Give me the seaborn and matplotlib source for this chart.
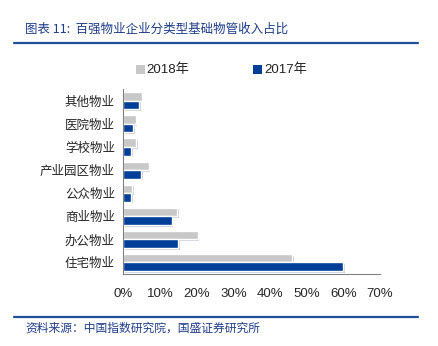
import matplotlib
matplotlib.use("Agg")
import matplotlib.pyplot as plt
import matplotlib.patheffects as pe
import seaborn as sns
import pandas as pd
from matplotlib.ticker import FuncFormatter, FixedLocator

categories = ["其他物业", "医院物业", "学校物业", "产业园区物业", "公众物业", "商业物业", "办公物业", "住宅物业"]
share_2018 = [5.0, 3.4, 3.6, 6.9, 2.5, 14.7, 20.3, 46.0]
share_2017 = [4.3, 2.7, 2.1, 4.8, 2.1, 13.2, 15.0, 60.0]
series_names = ["2018年", "2017年"]

df = pd.DataFrame({
    "类型": categories * 2,
    "占比": share_2018 + share_2017,
    "年份": [series_names[0]] * len(categories) + [series_names[1]] * len(categories),
})

sns.set_style("white")
plt.rcParams["font.family"] = ["Liberation Sans", "Noto Sans CJK SC", "DejaVu Sans"]

fig = plt.figure(figsize=(4.38, 3.46), dpi=100)
ax = fig.add_axes([0.2815, 0.208, 0.586, 0.534])

palette = {"2018年": "#c8c8c8", "2017年": "#003f98"}
sns.barplot(data=df, y="类型", x="占比", hue="年份", order=categories,
            hue_order=series_names, palette=palette, orient="h",
            width=0.74, ax=ax, saturation=1, legend=False)

# soft drop shadow under each bar
for bar in ax.patches:
    bar.set_path_effects([pe.SimplePatchShadow(offset=(1.2, -1.2), shadow_rgbFace="#9aa6c0", alpha=0.5),
                          pe.Normal()])

ax.set_xlim(0, 70)
ax.set_ylim(len(categories) - 0.5, -0.5)
ax.xaxis.set_major_locator(FixedLocator(range(0, 71, 10)))
ax.xaxis.set_major_formatter(FuncFormatter(lambda v, p: f"{v:.0f}%"))
ax.set_xlabel("")
ax.set_ylabel("")

for s in ["top", "right"]:
    ax.spines[s].set_visible(False)
for s in ["left", "bottom"]:
    ax.spines[s].set_color("#808080")
    ax.spines[s].set_linewidth(0.8)

ax.tick_params(axis="x", direction="in", length=3, color="#808080", labelsize=9.5, pad=10)
ax.tick_params(axis="y", which="major", length=0, labelsize=9, pad=6)
ax.set_yticks([i + 0.5 for i in range(-1, len(categories) - 1)], minor=True)
ax.tick_params(axis="y", which="minor", direction="in", length=4, color="#808080")
for lab in ax.get_yticklabels():
    lab.set_fontfamily(["Noto Sans CJK SC", "DejaVu Sans"])

# legend along the top
for xpos, name in [(0.31, series_names[0]), (0.578, series_names[1])]:
    fig.patches.append(plt.Rectangle((xpos, 0.787), 0.02, 0.025, transform=fig.transFigure,
                                     facecolor=palette[name], edgecolor="none"))
    fig.text(xpos + 0.025, 0.799, name, ha="left", va="center", fontsize=9.5,
             family=["Liberation Sans", "Noto Sans CJK SC"], color="#222222")

title_color = "#1f3d8a"
fig.text(0.057, 0.915, "图表 11:  百强物业企业分类型基础物管收入占比", fontsize=9,
         family=["Noto Sans CJK SC", "DejaVu Sans"], style="italic",
         color=title_color, ha="left", va="center")
fig.add_artist(plt.Line2D([0.032, 0.955], [0.877, 0.877], transform=fig.transFigure,
                          color="#1f4e9c", linewidth=1.6))
fig.add_artist(plt.Line2D([0.032, 0.955], [0.083, 0.083], transform=fig.transFigure,
                          color="#1f4e9c", linewidth=1.6))
fig.text(0.057, 0.052, "资料来源：中国指数研究院，国盛证券研究所", fontsize=8.5,
         family=["Noto Sans CJK SC", "DejaVu Sans"], style="italic",
         color=title_color, ha="left", va="center")

fig.savefig("out.png", dpi=100)
